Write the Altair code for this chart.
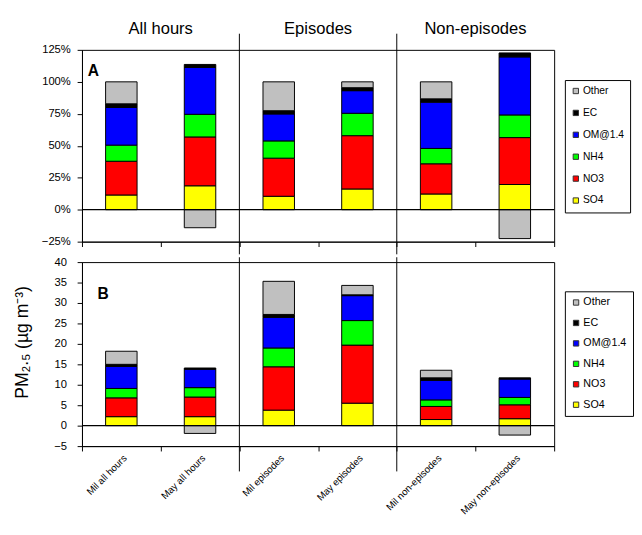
import altair as alt
import pandas as pd

categories = ["Mil all hours", "May all hours", "Mil episodes", "May episodes",
              "Mil non-episodes", "May non-episodes"]
group_titles = ["All hours", "Episodes", "Non-episodes"]
group_first = ["Mil all hours", "Mil episodes", "Mil non-episodes"]
separators_after = ["May all hours", "May episodes"]
species = ["SO4", "NO3", "NH4", "OM@1.4", "EC", "Other"]
legend_order = ["Other", "EC", "OM@1.4", "NH4", "NO3", "SO4"]
legend_colors = ["#C0C0C0", "#000000", "#0000FF", "#00FF00", "#FF0000", "#FFFF00"]

# Panel A: share of PM2.5 (%)
pct_SO4 = [11.5, 18.7, 10.5, 16.2, 12.3, 19.7]
pct_NO3 = [26.4, 38.2, 29.8, 41.7, 23.6, 36.7]
pct_NH4 = [12.6, 17.7, 13.5, 17.5, 12.0, 17.7]
pct_OM = [29.5, 36.7, 21.1, 17.7, 36.2, 45.4]
pct_EC = [2.8, 2.3, 2.5, 2.3, 2.6, 3.1]
pct_Other = [17.2, -14.1, 22.6, 4.6, 13.3, -22.6]

# Panel B: concentration (ug m-3)
conc_SO4 = [2.2, 2.2, 3.8, 5.5, 1.5, 1.7]
conc_NO3 = [4.6, 4.8, 10.6, 14.2, 3.2, 3.4]
conc_NH4 = [2.3, 2.3, 4.6, 6.0, 1.6, 1.8]
conc_OM = [5.4, 4.5, 7.5, 6.1, 4.8, 4.5]
conc_EC = [0.5, 0.3, 0.7, 0.2, 0.6, 0.3]
conc_Other = [3.2, -1.9, 8.1, 2.3, 1.85, -2.3]

pct_ticks = [-0.25, 0, 0.25, 0.5, 0.75, 1.0, 1.25]
conc_ticks = [-5, 0, 5, 10, 15, 20, 25, 30, 35, 40]


def long_table(series, scale=1.0):
    rows = []
    for s_i, s in enumerate(species):
        for c_i, c in enumerate(categories):
            rows.append({"cat": c, "species": s, "order": s_i,
                         "value": series[s_i][c_i] * scale})
    return pd.DataFrame(rows)


dfA = long_table([pct_SO4, pct_NO3, pct_NH4, pct_OM, pct_EC, pct_Other], 0.01)
dfB = long_table([conc_SO4, conc_NO3, conc_NH4, conc_OM, conc_EC, conc_Other])
titles_df = pd.DataFrame({"cat": group_first, "label": group_titles})
sep_df = pd.DataFrame({"cat": separators_after})
zero_df = pd.DataFrame({"value": [0.0]})

W = 485
HA = 197
HB = 189
FONT = "Liberation Sans"

xscale = alt.Scale(domain=categories, paddingInner=0, paddingOuter=0)
cscale = alt.Scale(domain=legend_order, range=legend_colors)


def legend(y, size, rowpad):
    return alt.Legend(title=None, orient="none", legendX=W + 11, legendY=y,
                      fillColor="white", strokeColor="black", padding=6,
                      symbolType="square", symbolSize=30, symbolStrokeColor="#333333",
                      symbolStrokeWidth=1, labelFont=FONT, labelFontSize=size,
                      labelColor="black", labelOffset=2, rowPadding=rowpad)


def panel(df, yscale, yaxis, xaxis, leg, label, label_xy, rule_top, rule_bottom, with_titles):
    bars = alt.Chart(df).mark_bar(
        width=alt.RelativeBandSize(0.4), stroke="black", strokeWidth=1
    ).encode(
        x=alt.X("cat:N", scale=xscale, sort=categories, axis=xaxis),
        y=alt.Y("value:Q", stack="zero", scale=yscale, axis=yaxis),
        color=alt.Color("species:N", scale=cscale, legend=leg),
        order=alt.Order("order:Q"),
    )
    zero = alt.Chart(zero_df).mark_rule(color="black", strokeWidth=1.2).encode(
        y=alt.Y("value:Q", axis=yaxis))
    seps = alt.Chart(sep_df).mark_rule(color="black", strokeWidth=1).encode(
        x=alt.X("cat:N", bandPosition=1, axis=xaxis),
        y=alt.value(rule_top), y2=alt.value(rule_bottom))
    lab = alt.Chart(pd.DataFrame({"t": [label]})).mark_text(
        font=FONT, fontSize=16, fontWeight="bold", align="left", baseline="top",
        color="black"
    ).encode(text="t:N", x=alt.value(label_xy[0]), y=alt.value(label_xy[1]))
    layers = [bars, zero, seps, lab]
    if with_titles:
        tt = alt.Chart(titles_df).mark_text(
            font=FONT, fontSize=17, align="center", baseline="alphabetic", color="black"
        ).encode(x=alt.X("cat:N", bandPosition=1, axis=xaxis), y=alt.value(-16),
                 text="label:N")
        layers.append(tt)
    return alt.layer(*layers).properties(width=W, height=HA if with_titles else HB)


axisA_y = alt.Axis(values=pct_ticks, format=".0%", title=None, labelPadding=7,
                   grid=False, labelOverlap=False)
axisA_x = alt.Axis(labels=False, title=None, tickBand="extent")
axisB_y = alt.Axis(values=conc_ticks, title="PM₂.₅ (µg m⁻³)", titleFont=FONT,
                   titleFontSize=18, titleFontWeight="normal", titlePadding=23,
                   titleY=82, labelPadding=11, grid=False, labelOverlap=False)
axisB_x = alt.Axis(title=None, labelAngle=-45, tickBand="extent", labelPadding=2,
                   labelFontSize=10, labelOverlap=False)

panelA = panel(dfA, alt.Scale(domain=[-0.25, 1.25], nice=False, zero=False), axisA_y,
               axisA_x, legend(31, 10.5, 11.5), "A", (6, 14), -16.6, HA + 13, True)
panelB = panel(dfB, alt.Scale(domain=[-5, 40], nice=False, zero=False), axisB_y,
               axisB_x, legend(30, 11, 9), "B", (16, 25), -5, HB + 26, False)

chart = alt.vconcat(panelA, panelB, spacing=0).resolve_scale(
    x="independent", y="independent", color="independent"
).properties(
    padding={"left": 5, "top": 5, "right": 0, "bottom": 0}
).configure_view(stroke="black", strokeWidth=1).configure_axis(
    labelFont=FONT, labelFontSize=11.5, labelColor="black", domainColor="black",
    tickColor="black", tickSize=5, domainWidth=1, tickWidth=1, labelOverlap=False
)

chart.save("out.html", embed_options={"renderer": "svg", "actions": False})
